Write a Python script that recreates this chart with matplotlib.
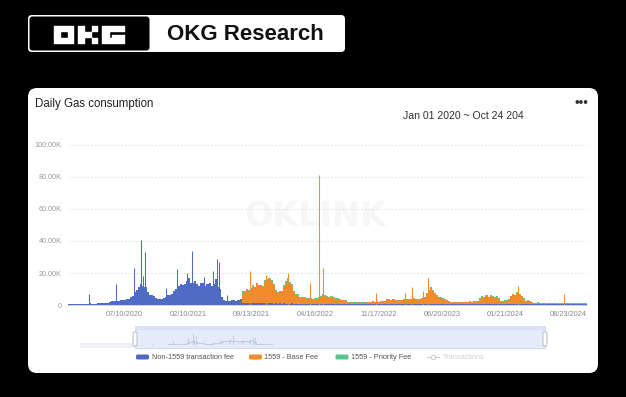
import numpy as np
import pandas as pd
import matplotlib
matplotlib.use('Agg')
import matplotlib.pyplot as plt
from matplotlib.patches import FancyBboxPatch, Rectangle

plt.rcParams['font.family'] = ['Liberation Sans', 'DejaVu Sans']

# ---- data (values in K), weekly samples from Jan 01 2020 ----
week_start = '2020-01-01'
london_week = 84  # first weekly sample with EIP-1559 fees

non1559 = [
    0.6, 0.6, 0.7, 0.6, 0.7, 0.7, 0.8, 0.7, 0.8, 0.8,
    1.2, 0.8, 0.9, 0.9, 1.0, 1.0, 1.1, 1.2, 1.3, 1.5,
    1.8, 2.2, 2.5, 2.8, 2.8, 3.0, 3.2, 3.0, 3.5, 4.0,
    4.8, 5.5, 8.0, 9.5, 11.0, 13.0, 12.0, 11.0, 8.0, 6.5,
    6.0, 5.5, 4.5, 4.0, 3.8, 4.0, 4.5, 5.0, 6.0, 6.5,
    7.0, 8.5, 10.0, 12.0, 13.0, 12.5, 13.0, 15.0, 17.0, 14.0,
    14.0, 15.0, 13.0, 12.0, 13.5, 14.0, 12.0, 13.0, 14.0, 12.0,
    13.0, 16.0, 11.0, 10.0, 5.0, 3.0, 2.5, 2.8, 2.6, 3.0,
    3.0, 2.8, 3.2, 3.5, 1.3, 1.2, 1.1, 1.2, 1.0, 1.1,
    1.2, 1.0, 1.1, 1.0, 1.1, 1.0, 0.9, 1.0, 1.1, 0.9,
    1.0, 0.9, 1.0, 0.9, 1.0, 0.9, 0.8, 0.9, 1.0, 0.8,
    0.9, 0.8, 0.8, 0.7, 0.8, 0.7, 0.7, 0.8, 0.7, 0.6,
    0.7, 0.7, 0.8, 0.7, 0.7, 0.6, 0.7, 0.6, 0.6, 0.7,
    0.6, 0.6, 0.6, 0.5, 0.6, 0.6, 0.5, 0.6, 0.5, 0.5,
    0.6, 0.5, 0.5, 0.6, 0.5, 0.5, 0.5, 0.6, 0.5, 0.5,
    0.5, 0.6, 0.5, 0.5, 0.6, 0.5, 0.5, 0.5, 0.6, 0.5,
    0.5, 0.5, 0.5, 0.6, 0.5, 0.5, 0.5, 0.5, 0.6, 0.5,
    0.5, 0.6, 0.6, 0.7, 0.8, 0.9, 0.8, 0.7, 0.6, 0.5,
    0.5, 0.5, 0.4, 0.5, 0.5, 0.4, 0.5, 0.5, 0.4, 0.5,
    0.5, 0.4, 0.5, 0.5, 0.5, 0.4, 0.5, 0.5, 0.4, 0.5,
    0.5, 0.5, 0.6, 0.5, 0.5, 0.6, 0.5, 0.5, 0.4, 0.5,
    0.5, 0.5, 0.6, 0.6, 0.5, 0.6, 0.6, 0.5, 0.5, 0.4,
    0.4, 0.4, 0.5, 0.4, 0.4, 0.4, 0.5, 0.4, 0.4, 0.4,
    0.4, 0.4, 0.4, 0.4, 0.4, 0.4, 0.4, 0.4, 0.4, 0.4,
    0.4, 0.4, 0.4, 0.4, 0.4, 0.4, 0.4, 0.4, 0.4, 0.4,
    0.4, 0.4,
]

base_fee = [
    6.5, 7.0, 8.0, 7.5, 9.0, 10.5, 9.5, 12.0, 10.5, 11.0,
    10.0, 13.5, 14.5, 15.0, 13.5, 11.5, 7.5, 6.5, 7.0, 7.5,
    10.5, 13.0, 15.0, 12.5, 11.5, 7.5, 5.5, 5.5, 3.5, 4.0,
    3.5, 3.0, 3.5, 3.0, 2.8, 3.2, 3.0, 3.5, 4.5, 5.5,
    5.0, 4.5, 4.0, 4.5, 4.0, 3.0, 3.2, 2.8, 2.5, 2.6,
    2.0, 1.2, 1.0, 1.1, 0.9, 1.0, 1.2, 1.0, 0.9, 1.1,
    1.0, 1.2, 1.1, 1.3, 1.2, 1.4, 1.2, 1.5, 1.6, 1.8,
    2.5, 2.8, 2.6, 3.0, 2.4, 2.2, 2.5, 2.6, 3.0, 2.8,
    3.2, 3.0, 2.8, 3.3, 3.0, 2.9, 3.2, 3.6, 4.0, 6.0,
    8.0, 9.5, 8.0, 6.5, 5.0, 4.0, 3.8, 3.5, 3.0, 2.5,
    2.0, 1.3, 1.2, 1.4, 1.2, 1.3, 1.1, 1.2, 1.3, 1.2,
    1.4, 1.3, 1.5, 1.4, 1.8, 3.5, 4.5, 4.0, 5.0, 4.2,
    5.2, 4.5, 4.0, 4.8, 3.5, 2.0, 1.8, 2.2, 2.0, 3.0,
    5.0, 6.0, 5.5, 7.0, 6.0, 5.0, 3.5, 2.0, 2.2, 1.8,
    1.2, 0.7, 0.6, 0.8, 0.6, 0.7, 0.6, 0.5, 0.7, 0.6,
    0.5, 0.6, 0.5, 0.4, 0.5, 0.4, 0.4, 0.3, 0.3, 0.2,
    0.3, 0.2, 0.2, 0.3, 0.2, 0.2, 0.2, 0.2,
]

priority_fee = [
    0.7, 0.6, 0.8, 0.7, 0.8, 0.7, 0.8, 0.7, 0.8, 0.8,
    0.7, 0.9, 0.8, 0.9, 0.8, 0.7, 0.6, 0.5, 0.6, 0.6,
    0.7, 0.8, 0.8, 0.7, 0.7, 0.5, 0.5, 0.5, 0.4, 0.4,
    0.4, 0.4, 0.4, 0.4, 0.4, 0.4, 0.4, 0.5, 0.5, 0.5,
    0.5, 0.4, 0.4, 0.4, 0.4, 0.4, 0.3, 0.3, 0.3, 0.3,
    0.3, 0.2, 0.2, 0.3, 0.2, 0.2, 0.3, 0.2, 0.2, 0.3,
    0.2, 0.3, 0.3, 0.3, 0.3, 0.3, 0.3, 0.3, 0.3, 0.3,
    0.4, 0.4, 0.3, 0.4, 0.3, 0.3, 0.3, 0.3, 0.4, 0.3,
    0.3, 0.3, 0.4, 0.3, 0.3, 0.4, 0.3, 0.4, 0.4, 0.6,
    0.7, 0.8, 0.7, 0.6, 0.5, 0.4, 0.4, 0.4, 0.3, 0.3,
    0.3, 0.2, 0.2, 0.2, 0.2, 0.2, 0.2, 0.2, 0.2, 0.2,
    0.3, 0.2, 0.3, 0.3, 0.3, 0.4, 0.4, 0.4, 0.4, 0.4,
    0.4, 0.4, 0.4, 0.4, 0.3, 0.3, 0.3, 0.3, 0.3, 0.3,
    0.4, 0.5, 0.4, 0.5, 0.5, 0.4, 0.3, 0.3, 0.3, 0.3,
    0.4, 0.4, 0.4, 0.5, 0.4, 0.4, 0.5, 0.4, 0.4, 0.4,
    0.5, 0.4, 0.4, 0.5, 0.4, 0.4, 0.4, 0.5, 0.4, 0.4,
    0.4, 0.4, 0.5, 0.4, 0.4, 0.4, 0.4, 0.4,
]

# single-day spikes (K)
non1559_spike_dates = ['2020-03-12', '2020-06-12', '2020-08-13', '2020-09-04', '2020-09-10',
                       '2020-09-18', '2020-11-29', '2021-01-04', '2021-02-07', '2021-02-23',
                       '2021-04-04', '2021-05-07', '2021-05-20', '2021-05-28', '2021-06-22']
non1559_spike_values = [7.0, 13.0, 23.0, 40.6, 18.0, 33.0, 10.6, 22.5, 20.0, 34.0,
                        17.7, 21.0, 28.5, 27.0, 6.0]
base_spike_dates = ['2021-09-08', '2021-11-01', '2022-01-14', '2022-04-01', '2022-05-01',
                    '2022-05-13', '2022-11-10', '2023-02-15', '2023-03-11', '2023-04-18',
                    '2023-05-06', '2024-03-04', '2024-08-06']
base_spike_values = [21.5, 19.0, 20.0, 13.7, 78.0, 23.0, 7.5, 7.5, 11.0, 8.7, 17.0, 12.0, 6.8]
priority_spike_dates = ['2022-05-01']
priority_spike_values = [3.0]

x_tick_labels = ['07/10/2020', '02/10/2021', '09/13/2021', '04/16/2022',
                 '11/17/2022', '06/20/2023', '01/21/2024', '08/23/2024']
y_ticks = [0, 20, 40, 60, 80, 100]
y_tick_labels = ['0', '20.00K', '40.00K', '60.00K', '80.00K', '100.00K']
series_names = ['Non-1559 transaction fee', '1559 - Base Fee', '1559 - Priority Fee']
series_colors = ['#4f6bc4', '#f28b2c', '#5ec48f']
date_from, date_to = '2020-01-01', '2024-10-24'

assert len(base_fee) == len(non1559) - london_week
assert len(priority_fee) == len(base_fee)

W, H = 626, 397
fig = plt.figure(figsize=(W / 100, H / 100), dpi=100, facecolor='black')

# background layer in pixel units
bg = fig.add_axes([0, 0, 1, 1])
bg.set_xlim(0, W)
bg.set_ylim(H, 0)
bg.axis('off')

# header badge
bg.add_patch(FancyBboxPatch((28, 15), 317, 37, boxstyle='round,pad=0,rounding_size=4',
                            fc='white', ec='none'))
bg.add_patch(FancyBboxPatch((29.5, 16.5), 120, 34, boxstyle='round,pad=0,rounding_size=3',
                            fc='black', ec='none'))
cells = {
    54: [(0, 0), (1, 0), (2, 0), (0, 1), (2, 1), (0, 2), (1, 2), (2, 2)],
    78: [(0, 0), (0, 1), (0, 2), (1, 1), (2, 0), (2, 2)],
    102: [(0, 0), (1, 0), (2, 0), (0, 1), (0, 2), (1, 2), (2, 2)],
}
for x0, cl in cells.items():
    cw = 7.6 if x0 == 102 else 6.8
    for cx, cy in cl:
        bg.add_patch(Rectangle((x0 + cx * cw, 25.5 + cy * 6), cw, 6, fc='white', ec='white', lw=0.3))
bg.add_patch(Rectangle((102 + 1.3 * 7.6, 34.5), 1.7 * 7.6, 3, fc='white', ec='white', lw=0.3))
bg.text(167, 34.5, 'OKG Research', fontsize=16, fontweight='bold', color='#111',
        va='center', ha='left')

# card
bg.add_patch(FancyBboxPatch((28, 88), 570, 285, boxstyle='round,pad=0,rounding_size=9',
                            fc='white', ec='none'))
bg.text(35, 107, 'Daily Gas consumption', fontsize=8.3, color='#222', va='baseline')
bg.text(403, 119, 'Jan 01 2020 ~ Oct 24 204', fontsize=7.6, color='#333', va='baseline')
bg.text(581, 103.5, '•••', fontsize=9.5, color='#333', ha='center', va='center')

# watermark
bg.text(315, 216, 'OKLINK', fontsize=24, fontweight='heavy', color='#f7f7f7',
        ha='center', va='center', family='DejaVu Sans')

# slider
bg.add_patch(Rectangle((80, 343), 55, 5, fc='#eef0f4', ec='none'))
bg.add_patch(Rectangle((135, 326), 410, 22, fc='#e5ebf9', ec='#cdd7f1', lw=0.6))
bg.add_patch(Rectangle((135, 326), 410, 4, fc='#d9e1f6', ec='none'))
for hx in (135, 545):
    bg.add_patch(FancyBboxPatch((hx - 2, 332), 4, 14, boxstyle='round,pad=0,rounding_size=1.5',
                                fc='white', ec='#a8b0c0', lw=0.6))

# legend
leg_x = [136, 249, 335.5]
for lx, name, col in zip(leg_x, series_names, series_colors):
    bg.add_patch(FancyBboxPatch((lx, 354.5), 13, 5, boxstyle='round,pad=0,rounding_size=1.5',
                                fc=col, ec='none'))
    bg.text(lx + 15.5, 357.3, name, fontsize=5.3, color='#555', va='center')
bg.plot([427, 439], [357, 357], color='#d0d0d0', lw=0.8)
bg.plot([433], [357], marker='o', ms=3.2, mfc='white', mec='#d0d0d0', mew=0.8)
bg.text(443, 357.3, 'Transactions', fontsize=5.3, color='#d0d0d0', va='center')

# ---- main chart ----
weeks = pd.date_range(week_start, periods=len(non1559), freq='7D')
blue = np.array(non1559)
post = weeks[london_week:]
b_post = blue[london_week:]
o_top = b_post + np.array(base_fee)
g_top = o_top + np.array(priority_fee)

ax = fig.add_axes([68 / W, 1 - 305 / H, 519 / W, 160 / H])
ax.set_facecolor('none')
ax.fill_between(weeks, 0, blue, step='post', color=series_colors[0], lw=0, zorder=2)
ax.fill_between(post, b_post, o_top, step='post', color=series_colors[1], lw=0, zorder=2)
ax.fill_between(post, o_top, g_top, step='post', color=series_colors[2], lw=0, zorder=2)

ax.vlines(pd.to_datetime(non1559_spike_dates), 0, non1559_spike_values,
          color=series_colors[0], lw=0.75, zorder=3)
ax.vlines(pd.to_datetime(base_spike_dates), 0, base_spike_values,
          color=series_colors[1], lw=0.75, zorder=3)
base_at = dict(zip(base_spike_dates, base_spike_values))
pr_bottom = [base_at[d] for d in priority_spike_dates]
ax.vlines(pd.to_datetime(priority_spike_dates), pr_bottom,
          np.array(pr_bottom) + np.array(priority_spike_values),
          color=series_colors[2], lw=0.75, zorder=3)

ax.set_xlim(pd.Timestamp(date_from), pd.Timestamp(date_to))
ax.set_ylim(0, 100)
ax.set_yticks(y_ticks)
ax.set_yticklabels(y_tick_labels)
ax.set_xticks(pd.to_datetime(x_tick_labels, format='%m/%d/%Y'))
ax.set_xticklabels(x_tick_labels)
ax.grid(axis='y', color='#e2e2e2', lw=0.6, ls=(0, (2.5, 2)))
ax.set_axisbelow(True)
for s in ['top', 'right', 'left']:
    ax.spines[s].set_visible(False)
ax.spines['bottom'].set_color('#d4d4d4')
ax.spines['bottom'].set_linewidth(0.7)
ax.tick_params(axis='y', length=0, labelsize=5.2, labelcolor='#9a9a9a', pad=4.5)
ax.tick_params(axis='x', length=0, labelsize=5.3, labelcolor='#888', pad=4.5)

# slider data shadow (non-1559 series over a wider range)
sl = fig.add_axes([80 / W, 1 - 345 / H, 465 / W, 12 / H])
sl.set_facecolor('none')
sl.axis('off')
sl.plot(weeks, blue, drawstyle='steps-post', color='#b9c0d4', lw=0.5)
sl.vlines(pd.to_datetime(non1559_spike_dates), 0, non1559_spike_values, color='#b9c0d4', lw=0.5)
sl.set_xlim(pd.Timestamp(date_from) - pd.Timedelta(days=236), pd.Timestamp(date_to))
sl.set_ylim(0, 42)

fig.savefig('out.png', dpi=100, facecolor='black')
